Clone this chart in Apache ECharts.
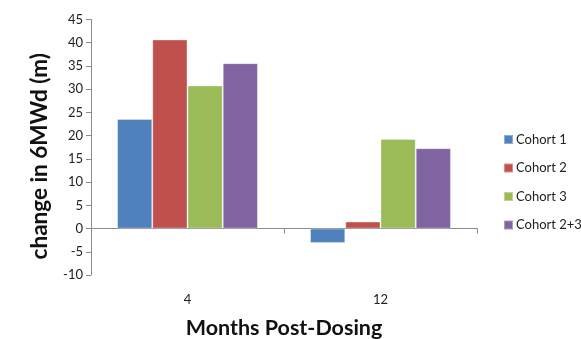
<!DOCTYPE html>
<html>
<head>
<meta charset="utf-8">
<script src="https://cdn.jsdelivr.net/npm/echarts@6/dist/echarts.min.js"></script>
<style>
  html, body { margin: 0; padding: 0; background: #fff; }
  #chart { width: 581px; height: 339px; }
</style>
</head>
<body>
<div id="chart"></div>
<script>
// Change in six-minute walk distance by cohort, at 4 and 12 months post-dosing
const months = ['4', '12'];
const cohort1 = [23.6, -3.1];
const cohort2 = [40.7, 1.5];
const cohort3 = [30.8, 19.3];
const cohort23 = [35.6, 17.3];
const seriesNames = ['Cohort 1', 'Cohort 2', 'Cohort 3', 'Cohort 2+3'];
const seriesColors = ['#4F81BD', '#C0504D', '#9BBB59', '#8064A2'];
const yTicks = { min: -10, max: 45, step: 5 };

const font = 'Lato, "Open Sans", sans-serif';
const chart = echarts.init(document.getElementById('chart'), null, { renderer: 'canvas' });

const values = [cohort1, cohort2, cohort3, cohort23];

chart.setOption({
  animation: false,
  textStyle: { fontFamily: font },
  grid: { left: 91, right: 104, top: 19.5, bottom: 64, containLabel: false, outerBoundsMode: 'none' },
  legend: {
    orient: 'vertical',
    left: 498,
    top: 128,
    itemWidth: 9,
    itemHeight: 9,
    itemGap: 15.5,
    icon: 'rect',
    textStyle: { fontFamily: font, fontSize: 13, color: '#222', padding: [0, 0, 0, -2] },
    data: seriesNames
  },
  xAxis: [
    {
      type: 'category',
      data: months,
      axisLine: { onZero: true, lineStyle: { color: '#8c8c8c', width: 1 } },
      axisTick: { show: true, length: 5, lineStyle: { color: '#8c8c8c' } },
      axisLabel: { show: false }
    },
    {
      type: 'category',
      data: months,
      position: 'bottom',
      axisLine: { show: false, onZero: false },
      axisTick: { show: false },
      axisLabel: { show: true, margin: 18, fontSize: 13, color: '#222', fontFamily: font },
      name: 'Months Post-Dosing',
      nameLocation: 'middle',
      nameGap: 42,
      nameTextStyle: { fontFamily: font, fontSize: 21.5, fontWeight: 'bold', color: '#111' }
    }
  ],
  yAxis: {
    type: 'value',
    min: yTicks.min,
    max: yTicks.max,
    interval: yTicks.step,
    splitLine: { show: false },
    axisLine: { show: true, lineStyle: { color: '#8c8c8c' } },
    axisTick: { show: true, length: 5, lineStyle: { color: '#8c8c8c' } },
    axisLabel: { fontSize: 13, color: '#222', margin: 8, fontFamily: font },
    name: 'change in 6MWd (m)',
    nameLocation: 'middle',
    nameGap: 40,
    nameTextStyle: { fontFamily: font, fontSize: 22.5, fontWeight: 'bold', color: '#111', padding: [0, 18, 0, 0] }
  },
  series: seriesNames.map((name, i) => ({
    name: name,
    type: 'bar',
    xAxisIndex: 0,
    data: values[i],
    barGap: '0%',
    barCategoryGap: '27%',
    itemStyle: { color: seriesColors[i], borderColor: 'rgba(255,255,255,0.35)', borderWidth: 1 }
  }))
});
</script>
</body>
</html>
